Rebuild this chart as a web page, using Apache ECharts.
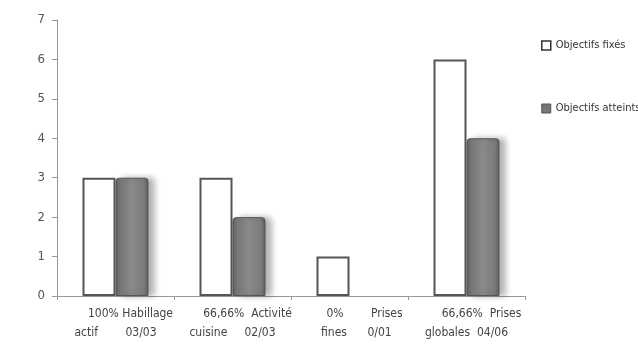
<!DOCTYPE html>
<html>
<head>
<meta charset="utf-8">
<script src="https://cdn.jsdelivr.net/npm/echarts@6/dist/echarts.min.js"></script>
<style>
  html, body { margin: 0; padding: 0; background: #fff; }
  #chart { width: 638px; height: 344px; }
</style>
</head>
<body>
<div id="chart"></div>
<script>
// categories: two lines per label as in the original sheet
var labelTop = ['100% Habillage', '66,66%  Activité', '0%        Prises', '66,66%  Prises']
var labelBottom = ['actif        03/03', 'cuisine     02/03', '    fines      0/01', 'globales  04/06']
var fixes = [3, 3, 1, 6]
var atteints = [3, 2, 0, 4]
var yTicks = [0, 1, 2, 3, 4, 5, 6, 7]

var font = "'DejaVu Sans Condensed', 'Liberation Sans Narrow', sans-serif"
var categories = labelTop.map(function(t, i) { return i })

var grayFill = new echarts.graphic.LinearGradient(0, 0, 1, 0, [
  { offset: 0, color: '#5e5e5e' },
  { offset: 0.15, color: '#7c7c7c' },
  { offset: 0.5, color: '#8a8a8a' },
  { offset: 0.85, color: '#7c7c7c' },
  { offset: 1, color: '#5e5e5e' }
])

var chart = echarts.init(document.getElementById('chart'))
var option = {
  animation: false,
  grid: { left: 57, right: 113, top: 20, bottom: 48 },
  legend: {
    orient: 'vertical',
    left: 536,
    top: 35,
    itemGap: 52,
    itemWidth: 9,
    itemHeight: 9,
    textStyle: { fontFamily: font, fontSize: 11, color: '#333' },
    data: [
      { name: 'Objectifs fixés', icon: 'rect', itemStyle: { color: '#fff', borderColor: '#333', borderWidth: 1.5 } },
      { name: 'Objectifs atteints', icon: 'rect', itemStyle: { color: '#777', borderColor: '#555', borderWidth: 1 } }
    ]
  },
  xAxis: {
    type: 'category',
    data: categories,
    axisLine: { lineStyle: { color: '#999', width: 1 } },
    axisTick: { show: true, length: 4, lineStyle: { color: '#999' } },
    axisLabel: {
      margin: 8,
      interval: 0,
      formatter: function(v, i) {
        return '{a|' + labelTop[i] + '}\n{b|' + labelBottom[i] + '}'
      },
      rich: {
        a: { fontFamily: font, fontSize: 12, color: '#444', lineHeight: 19, padding: [0, 0, 0, 30] },
        b: { fontFamily: font, fontSize: 12, color: '#444', lineHeight: 19 }
      }
    }
  },
  yAxis: {
    type: 'value',
    min: yTicks[0],
    max: yTicks[yTicks.length - 1],
    interval: 1,
    splitLine: { show: false },
    axisLine: { show: true, lineStyle: { color: '#999' } },
    axisTick: { show: true, length: 5, lineStyle: { color: '#999' } },
    axisLabel: { fontFamily: font, fontSize: 13, color: '#555', margin: 12 }
  },
  series: [
    {
      name: 'Objectifs fixés',
      type: 'bar',
      data: fixes,
      barWidth: 33,
      barGap: '0%',
      itemStyle: { color: '#fff', borderColor: '#555', borderWidth: 2 }
    },
    {
      name: 'Objectifs atteints',
      type: 'bar',
      // no outline for an empty bar
      data: atteints.map(function(v) {
        return v === 0 ? { value: v, itemStyle: { borderWidth: 0, shadowBlur: 0, color: 'rgba(0,0,0,0)' } } : v
      }),
      barWidth: 33,
      itemStyle: {
        color: grayFill,
        borderColor: '#555',
        borderWidth: 1,
        borderRadius: [3, 3, 0, 0],
        shadowColor: 'rgba(0,0,0,0.3)',
        shadowBlur: 6,
        shadowOffsetX: 6,
        shadowOffsetY: 0
      }
    }
  ]
}
chart.setOption(option)
</script>
</body>
</html>
